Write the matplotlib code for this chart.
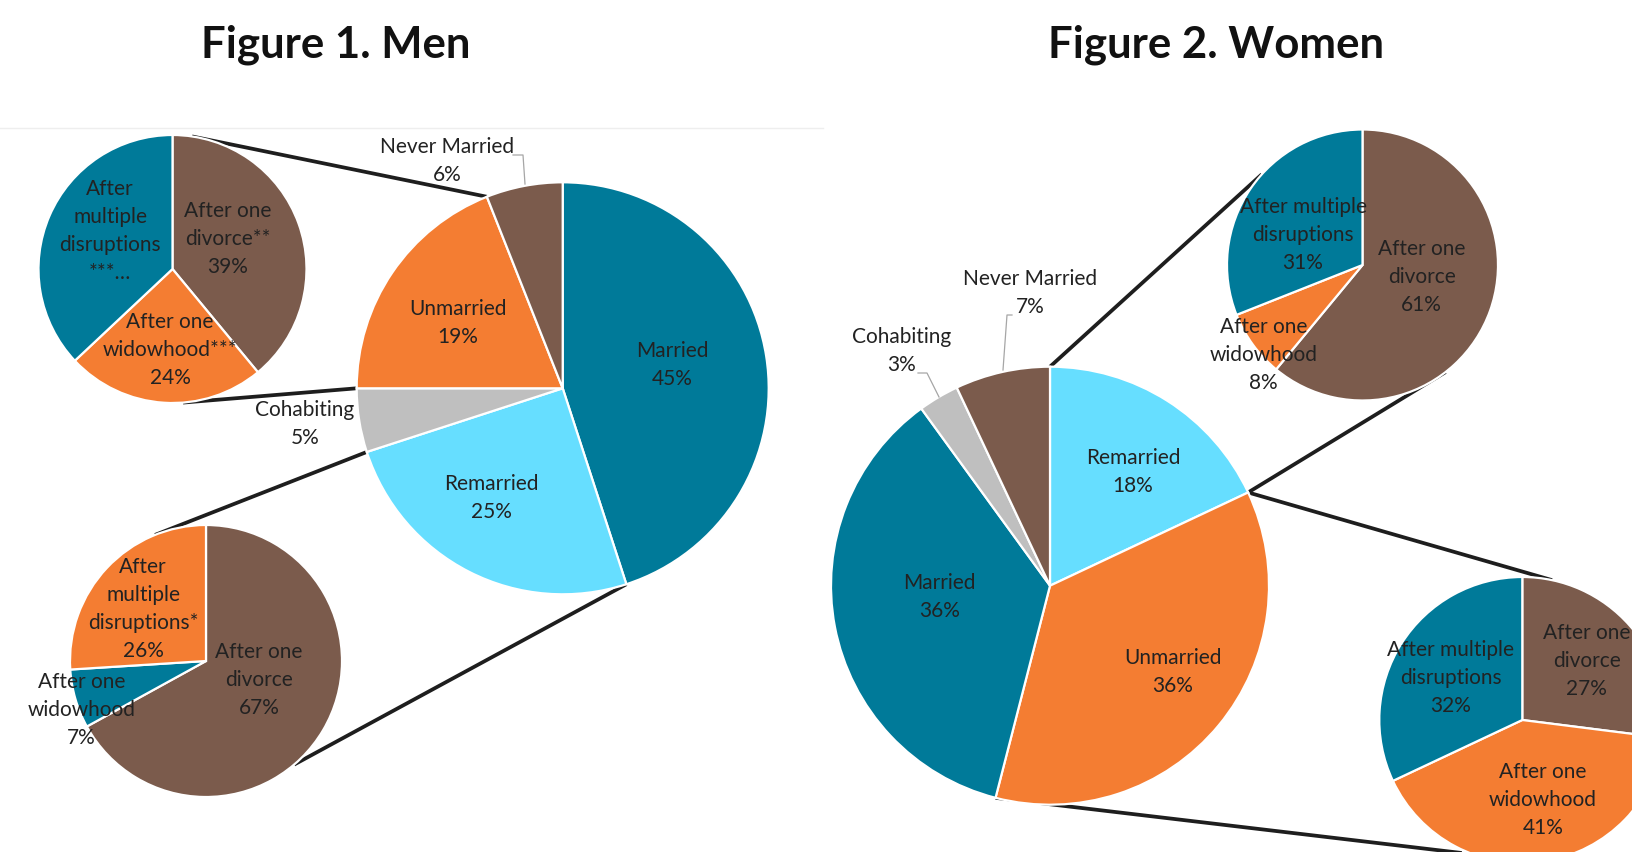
import matplotlib.pyplot as plt
import numpy as np

plt.rcParams['font.family'] = ['Lato', 'DejaVu Sans']

# ---- data ----
men_main_labels = ["Married", "Remarried", "Cohabiting", "Unmarried", "Never Married"]
men_main_values = [45, 25, 5, 19, 6]

men_unmarried_labels = ["After one\ndivorce**", "After one\nwidowhood***", "After\nmultiple\ndisruptions\n***…"]
men_unmarried_values = [39, 24, 37]
men_unmarried_showpct = [True, True, False]   # last label is truncated in the original

men_remarried_labels = ["After one\ndivorce", "After one\nwidowhood", "After\nmultiple\ndisruptions*"]
men_remarried_values = [67, 7, 26]

women_main_labels = ["Remarried", "Unmarried", "Married", "Cohabiting", "Never Married"]
women_main_values = [18, 36, 36, 3, 7]

women_remarried_labels = ["After one\ndivorce", "After one\nwidowhood", "After multiple\ndisruptions"]
women_remarried_values = [61, 8, 31]

women_unmarried_labels = ["After one\ndivorce", "After one\nwidowhood", "After multiple\ndisruptions"]
women_unmarried_values = [27, 41, 32]

# ---- colours ----
TEAL = '#007A99'
CYAN = '#66DEFF'
GREY = '#BFBFBF'
ORANGE = '#F47D32'
BROWN = '#7B5B4C'
TXT = '#222222'

men_main_colors = [TEAL, CYAN, GREY, ORANGE, BROWN]
women_main_colors = [CYAN, ORANGE, TEAL, GREY, BROWN]

W, H = 1633, 852
fig = plt.figure(figsize=(W / 100, H / 100), dpi=100)
ax = fig.add_axes([0, 0, 1, 1])


def edge_point(center, r, frac):
    # point on the circle, frac measured clockwise from 12 o'clock (y axis is inverted)
    a = np.deg2rad(-90 + 360 * frac)
    return center[0] + r * np.cos(a), center[1] + r * np.sin(a)


def cum_frac(values, i):
    v = np.asarray(values, float)
    return v[:i].sum() / v.sum()


def draw_pie(values, labels, colors, center, r, offsets, showpct=None, fs=15):
    ax.pie(values, colors=colors, center=center, radius=r, startangle=-90,
           counterclock=True, wedgeprops=dict(edgecolor='white', linewidth=1.6))
    for i, (lab, v) in enumerate(zip(labels, values)):
        txt = lab if (showpct is not None and not showpct[i]) else f"{lab}\n{v}%"
        dx, dy = offsets[i]
        ax.text(center[0] + dx * r, center[1] + dy * r, txt, ha='center', va='center',
                multialignment='center', fontsize=fs, color=TXT, linespacing=1.5, zorder=5)


def connector(p, q):
    ax.plot([p[0], q[0]], [p[1], q[1]], color='#1E1E1E', lw=2.7, zorder=0,
            solid_capstyle='butt')


# ---- Figure 1: Men ----
m_c, m_r = (562.7, 388.3), 206
mu_c, mu_r = (172.5, 269), 134
mr_c, mr_r = (206, 661), 136

draw_pie(men_main_values, men_main_labels, men_main_colors, m_c, m_r,
         [(0.534, -0.112), (-0.345, 0.532), (-1.251, 0.173), (-0.508, -0.317), (-0.562, -1.101)])
draw_pie(men_unmarried_values, men_unmarried_labels, [BROWN, ORANGE, TEAL], mu_c, mu_r,
         [(0.414, -0.224), (-0.019, 0.601), (-0.466, -0.28)], showpct=men_unmarried_showpct)
draw_pie(men_remarried_values, men_remarried_labels, [BROWN, TEAL, ORANGE], mr_c, mr_r,
         [(0.39, 0.14), (-0.914, 0.36), (-0.463, -0.382)])

# unmarried slice -> top small pie
connector(edge_point(mu_c, mu_r, 8.4 / 360), edge_point(m_c, m_r, cum_frac(men_main_values, 4)))
connector(edge_point(mu_c, mu_r, 175.5 / 360), edge_point(m_c, m_r, cum_frac(men_main_values, 3)))
# remarried slice -> bottom small pie
connector(edge_point(mr_c, mr_r, 338 / 360), edge_point(m_c, m_r, cum_frac(men_main_values, 2)))
connector(edge_point(mr_c, mr_r, 139.6 / 360), edge_point(m_c, m_r, cum_frac(men_main_values, 1)))

# leader line for "Never Married"
ax.plot([513, 523, 525], [155, 155, 184], color='#A6A6A6', lw=0.9, zorder=1)

# ---- Figure 2: Women ----
w_c, w_r = (1050, 585.7), 219
wr_c, wr_r = (1362.5, 265), 135.5
wu_c, wu_r = (1522.3, 720), 143

draw_pie(women_main_values, women_main_labels, women_main_colors, w_c, w_r,
         [(0.379, -0.52), (0.56, 0.393), (-0.505, 0.05), (-0.676, -1.072), (-0.091, -1.338)])
draw_pie(women_remarried_values, women_remarried_labels, [BROWN, ORANGE, TEAL], wr_c, wr_r,
         [(0.437, 0.092), (-0.732, 0.661), (-0.439, -0.218)])
draw_pie(women_unmarried_values, women_unmarried_labels, [BROWN, ORANGE, TEAL], wu_c, wu_r,
         [(0.45, -0.413), (0.143, 0.56), (-0.5, -0.294)])

connector(edge_point(wr_c, wr_r, 312 / 360), edge_point(w_c, w_r, cum_frac(women_main_values, 0)))
connector(edge_point(wr_c, wr_r, 142.2 / 360), edge_point(w_c, w_r, cum_frac(women_main_values, 1)))
connector(edge_point(wu_c, wu_r, 12 / 360), edge_point(w_c, w_r, cum_frac(women_main_values, 1)))
connector(edge_point(wu_c, wu_r, 200 / 360), edge_point(w_c, w_r, cum_frac(women_main_values, 2)))

# leader lines
ax.plot([1012, 1007, 1003], [315, 315, 370], color='#A6A6A6', lw=0.9, zorder=1)
ax.plot([918, 927, 939], [373, 373, 397], color='#A6A6A6', lw=0.9, zorder=1)

# faint chart-area edge
ax.plot([0, 823], [128, 128], color='#EEEEEE', lw=1, zorder=0)

# titles
ax.text(336, 45, "Figure 1. Men", ha='center', va='center', fontsize=31.5, fontweight='bold', color='#111111')
ax.text(1216, 45, "Figure 2. Women", ha='center', va='center', fontsize=31.5, fontweight='bold', color='#111111')

ax.set_xlim(0, W)
ax.set_ylim(H, 0)
ax.axis('off')
fig.savefig('out.png', dpi=100)
